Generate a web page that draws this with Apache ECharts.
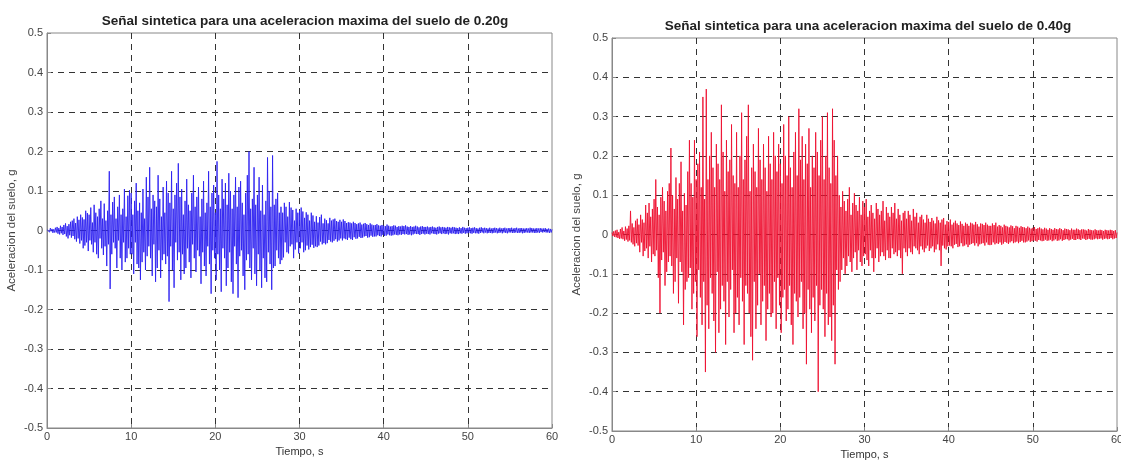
<!DOCTYPE html>
<html>
<head>
<meta charset="utf-8">
<script src="https://cdn.jsdelivr.net/npm/echarts@6/dist/echarts.min.js"></script>
<style>
  html, body { margin: 0; padding: 0; background: #fff; overflow: hidden; }
  #chart { width: 1121px; height: 460px; }
</style>
</head>
<body>
<div id="chart"></div>
<script>
// Sampling step of both records, seconds
const DT = 0.1;

// Time-axis ticks (s) and acceleration ticks (g)
const timeTicks = [0, 10, 20, 30, 40, 50, 60];
const accelTicks = [-0.5, -0.4, -0.3, -0.2, -0.1, 0, 0.1, 0.2, 0.3, 0.4, 0.5];

const titles = [
  'Señal sintetica para una aceleracion maxima del suelo de 0.20g',
  'Señal sintetica para una aceleracion maxima del suelo de 0.40g'
];

// Ground acceleration, milli-g, 10 samples per second (PGA 0.20 g)
const accel020_mg = [
  2,-3,5,-4,6,-2,4,-6,3,-5,
  7,-5,9,-8,6,-10,12,-7,9,-11,
  14,-9,18,-15,11,-20,16,-12,22,-18,
  25,-14,30,-22,19,-28,35,-20,27,-33,
  40,-25,33,-45,28,-38,50,-30,44,-52,
  40,-25,58,-35,20,-55,65,-30,45,-60,
  35,-70,55,-20,75,-45,30,-62,68,-40,
  25,-90,50,-35,150,-148,40,-60,72,-30,
  85,-45,30,-95,60,-25,90,-70,40,-100,
  55,-30,105,-80,35,-70,88,-45,102,-60,
  95,-60,40,-110,75,-30,120,-85,50,-95,
  70,-125,45,-80,105,-55,30,-100,135,-65,
  85,-40,160,-70,55,-115,90,-35,75,-130,
  60,-95,140,-50,80,-120,35,-75,110,-60,
  45,-85,125,-65,95,-180,70,-40,150,-100,
  55,-145,90,-30,120,-75,170,-55,85,-125,
  105,-60,40,-110,75,-95,130,-45,65,-80,
  50,-120,95,-35,140,-70,60,-105,85,-50,
  110,-65,35,-135,80,-55,125,-90,45,-115,
  70,-40,150,-85,60,-160,95,-50,115,-70,
  45,-125,175,-60,90,-100,55,-155,130,-45,
  80,-70,120,-140,65,-95,145,-55,100,-130,
  55,-160,90,-40,135,-85,60,-170,110,-65,
  125,-50,70,-115,40,-150,95,-75,140,-60,
  200,-95,55,-125,80,-45,160,-110,65,-140,
  90,-60,135,-100,50,-145,115,-70,40,-120,
  75,-130,185,-55,100,-85,60,-150,190,-95,
  65,-90,80,-50,95,-70,45,-85,60,-75,
  45,-68,70,-30,60,-55,35,-58,72,-40,
  58,-35,52,-70,25,-48,55,-30,45,-58,
  50,-45,58,-30,48,-55,32,-50,46,-38,
  40,-48,25,-42,45,-36,38,-44,22,-40,
  36,-42,20,-38,34,-28,40,-35,18,-32,
  30,-35,26,-32,18,-24,32,-28,25,-30,
  28,-26,30,-22,24,-28,22,-25,27,-20,
  22,-25,28,-20,24,-22,19,-24,21,-18,
  20,-22,18,-24,22,-17,19,-21,16,-20,
  18,-16,20,-19,15,-18,17,-15,19,-14,
  16,-18,14,-17,18,-13,15,-16,13,-15,
  14,-15,16,-12,13,-14,12,-15,14,-11,
  12,-14,11,-13,15,-10,12,-12,10,-13,
  11,-12,13,-10,12,-11,9,-12,11,-10,
  10,-11,12,-9,11,-10,13,-9,10,-11,
  9,-10,11,-12,9,-10,10,-8,12,-9,
  10,-9,8,-11,10,-9,11,-8,9,-10,
  9,-8,10,-9,8,-10,9,-7,10,-8,
  8,-9,7,-10,9,-8,10,-7,8,-9,
  9,-7,8,-9,7,-8,9,-10,8,-7,
  7,-8,9,-7,8,-9,7,-8,6,-9,
  8,-7,6,-8,9,-6,7,-8,6,-7,
  7,-6,8,-7,6,-8,7,-6,8,-7,
  6,-7,5,-8,7,-6,8,-5,6,-7,
  7,-5,6,-7,5,-6,7,-6,5,-7,
  6,-6,7,-5,6,-7,5,-6,7,-5,
  5,-7,6,-5,7,-6,5,-7,6,-5,
  6,-5,7,-6,5,-6,6,-5,7,-6,
  5,-6,6,-5,6,-7,5,-6,5,-5,
  6,-5,5,-6,7,-5,6,-5,5,-6,
  5,-6,6,-5,5,-6,6,-4,5,-5,
  5,-4,6,-5,4,-5,5,-6,4,-5,
  3
];

// Ground acceleration, milli-g, 10 samples per second (PGA 0.40 g)
const accel040_mg = [
  5,-4,8,-6,10,-7,12,-9,6,-11,
  14,-10,18,-12,9,-16,20,-13,15,-18,
  22,-15,60,-20,28,-25,18,-30,35,-22,
  40,-28,25,-45,50,-20,38,-55,30,-42,
  75,-35,55,-60,80,-30,45,-70,65,-50,
  90,-55,140,-40,70,-110,50,-200,95,-65,
  120,-45,85,-130,60,-95,110,-70,130,-55,
  220,-80,100,-150,65,-120,145,-60,90,-175,
  130,-70,185,-95,60,-230,105,-140,75,-120,
  160,-110,240,-85,130,-190,95,-150,240,-120,
  140,-260,180,-90,210,-160,120,-230,350,-120,
  90,-350,370,-180,140,-240,200,-110,260,-150,
  170,-220,120,-300,230,-95,180,-250,140,-190,
  330,-130,210,-170,110,-280,240,-120,160,-210,
  190,-140,280,-90,150,-250,130,-200,260,-160,
  120,-230,200,-110,310,-170,140,-280,190,-130,
  250,-150,330,-200,110,-260,170,-320,230,-120,
  160,-240,120,-180,270,-100,190,-230,140,-170,
  230,-130,170,-270,110,-190,250,-150,180,-210,
  140,-200,260,-120,200,-240,160,-110,230,-180,
  180,-250,130,-160,280,-140,200,-220,150,-190,
  300,-130,170,-230,120,-280,210,-150,260,-170,
  150,-210,320,-160,190,-120,250,-240,140,-200,
  230,-330,180,-140,270,-190,120,-250,200,-160,
  170,-220,260,-130,210,-400,150,-180,240,-140,
  300,-190,140,-260,200,-150,310,-230,170,-210,
  130,-270,320,-180,240,-330,150,-90,200,-140,
  100,-120,70,-90,110,-60,85,-100,60,-80,
  90,-55,120,-70,50,-95,80,-60,105,-45,
  75,-90,60,-40,95,-70,50,-80,85,-55,
  70,-50,90,-65,45,-80,60,-40,75,-60,
  55,-95,40,-60,80,-35,65,-70,50,-55,
  60,-45,85,-55,35,-65,70,-40,55,-60,
  45,-60,70,-35,55,-50,80,-45,40,-55,
  65,-40,50,-60,35,-100,55,-35,60,-45,
  40,-55,60,-35,50,-45,35,-50,65,-30,
  45,-35,55,-40,30,-50,45,-30,50,-38,
  38,-45,30,-35,50,-28,40,-42,32,-35,
  42,-30,35,-45,28,-38,45,-25,36,-40,
  30,-80,38,-28,42,-35,25,-38,34,-30,
  32,-28,38,-30,25,-35,30,-26,35,-24,
  28,-32,24,-30,33,-22,27,-30,22,-28,
  30,-25,27,-32,22,-26,30,-24,28,-22,
  25,-28,32,-22,26,-30,20,-25,28,-23,
  27,-22,24,-28,30,-20,25,-26,22,-27,
  22,-26,28,-20,24,-25,30,-22,20,-24,
  24,-20,22,-26,18,-23,25,-19,22,-21,
  20,-24,18,-20,23,-17,21,-22,16,-20,
  22,-18,20,-22,17,-19,21,-16,19,-20,
  18,-20,16,-18,20,-15,17,-19,15,-17,
  17,-15,19,-16,14,-18,16,-14,18,-15,
  15,-17,13,-16,17,-13,15,-16,12,-15,
  16,-13,14,-17,12,-15,16,-12,14,-16,
  13,-15,16,-12,14,-16,11,-14,15,-12,
  14,-12,13,-15,11,-13,15,-11,12,-14,
  12,-14,15,-11,13,-12,11,-14,13,-10,
  13,-11,12,-14,10,-12,14,-11,12,-13,
  11,-13,10,-12,13,-10,11,-12,10,-11,
  12,-10,11,-13,9,-11,12,-10,11,-12,
  10,-11,12,-9,11,-12,9,-10,11,-9,
  5
];

// [time (s), acceleration (g)] pairs
function toSeries(mg) {
  return mg.map((v, i) => [+(i * DT).toFixed(2), v / 1000]);
}

const FONT = "'Liberation Sans Narrow', 'Liberation Sans', Arial, sans-serif";
const TITLE_FONT = "'Liberation Sans', Arial, sans-serif";

function xAxisFor(gridIndex) {
  return {
    type: 'value', gridIndex,
    min: timeTicks[0], max: timeTicks[timeTicks.length - 1],
    interval: timeTicks[1] - timeTicks[0],
    name: 'Tiempo, s', nameLocation: 'middle', nameGap: 16,
    nameTextStyle: { fontFamily: FONT, fontSize: 11, color: '#333' },
    axisLine: { show: true, onZero: false, lineStyle: { color: '#888', width: 1 } },
    axisTick: { show: true, inside: true, length: 4, lineStyle: { color: '#888' } },
    axisLabel: { fontFamily: FONT, fontSize: 11, color: '#444', margin: 3, hideOverlap: false },
    splitLine: {
      show: true, showMinLine: false, showMaxLine: false,
      lineStyle: { color: '#333', type: [6, 5], width: 1 }
    }
  };
}

function yAxisFor(gridIndex) {
  return {
    type: 'value', gridIndex,
    min: accelTicks[0], max: accelTicks[accelTicks.length - 1],
    interval: 0.1,
    name: 'Aceleracion del suelo, g', nameLocation: 'middle', nameGap: 29,
    nameTextStyle: { fontFamily: FONT, fontSize: 11.5, color: '#444' },
    axisLine: { show: true, onZero: false, lineStyle: { color: '#888', width: 1 } },
    axisTick: { show: true, inside: true, length: 4, lineStyle: { color: '#888' } },
    axisLabel: {
      fontFamily: FONT, fontSize: 11, color: '#444', margin: 4,
      formatter: v => String(+v.toFixed(1))
    },
    splitLine: {
      show: true, showMinLine: false, showMaxLine: false,
      lineStyle: { color: '#333', type: [6, 5], width: 1 }
    }
  };
}

const chart = echarts.init(document.getElementById('chart'), null, { renderer: 'canvas' });
chart.setOption({
  animation: false,
  backgroundColor: '#fff',
  title: [
    { text: titles[0], left: 300, top: 9, textAlign: 'center',
      textStyle: { fontFamily: TITLE_FONT, fontSize: 13.5, fontWeight: 'bold', color: '#222' } },
    { text: titles[1], left: 863, top: 14, textAlign: 'center',
      textStyle: { fontFamily: TITLE_FONT, fontSize: 13.5, fontWeight: 'bold', color: '#222' } }
  ],
  grid: [
    { left: 47, right: 569, top: 33, bottom: 32, outerBoundsMode: 'none', containLabel: false,
      show: true, borderColor: '#888', borderWidth: 1, backgroundColor: '#fff' },
    { left: 612, right: 4, top: 38, bottom: 29, outerBoundsMode: 'none', containLabel: false,
      show: true, borderColor: '#888', borderWidth: 1, backgroundColor: '#fff' }
  ],
  xAxis: [xAxisFor(0), xAxisFor(1)],
  yAxis: [yAxisFor(0), yAxisFor(1)],
  series: [
    { type: 'line', xAxisIndex: 0, yAxisIndex: 0, data: toSeries(accel020_mg),
      showSymbol: false, sampling: null, z: 3,
      lineStyle: { color: '#2b1ff0', width: 0.9 } },
    { type: 'line', xAxisIndex: 1, yAxisIndex: 1, data: toSeries(accel040_mg),
      showSymbol: false, sampling: null, z: 3,
      lineStyle: { color: '#ee1030', width: 0.9 } }
  ]
});
</script>
</body>
</html>
